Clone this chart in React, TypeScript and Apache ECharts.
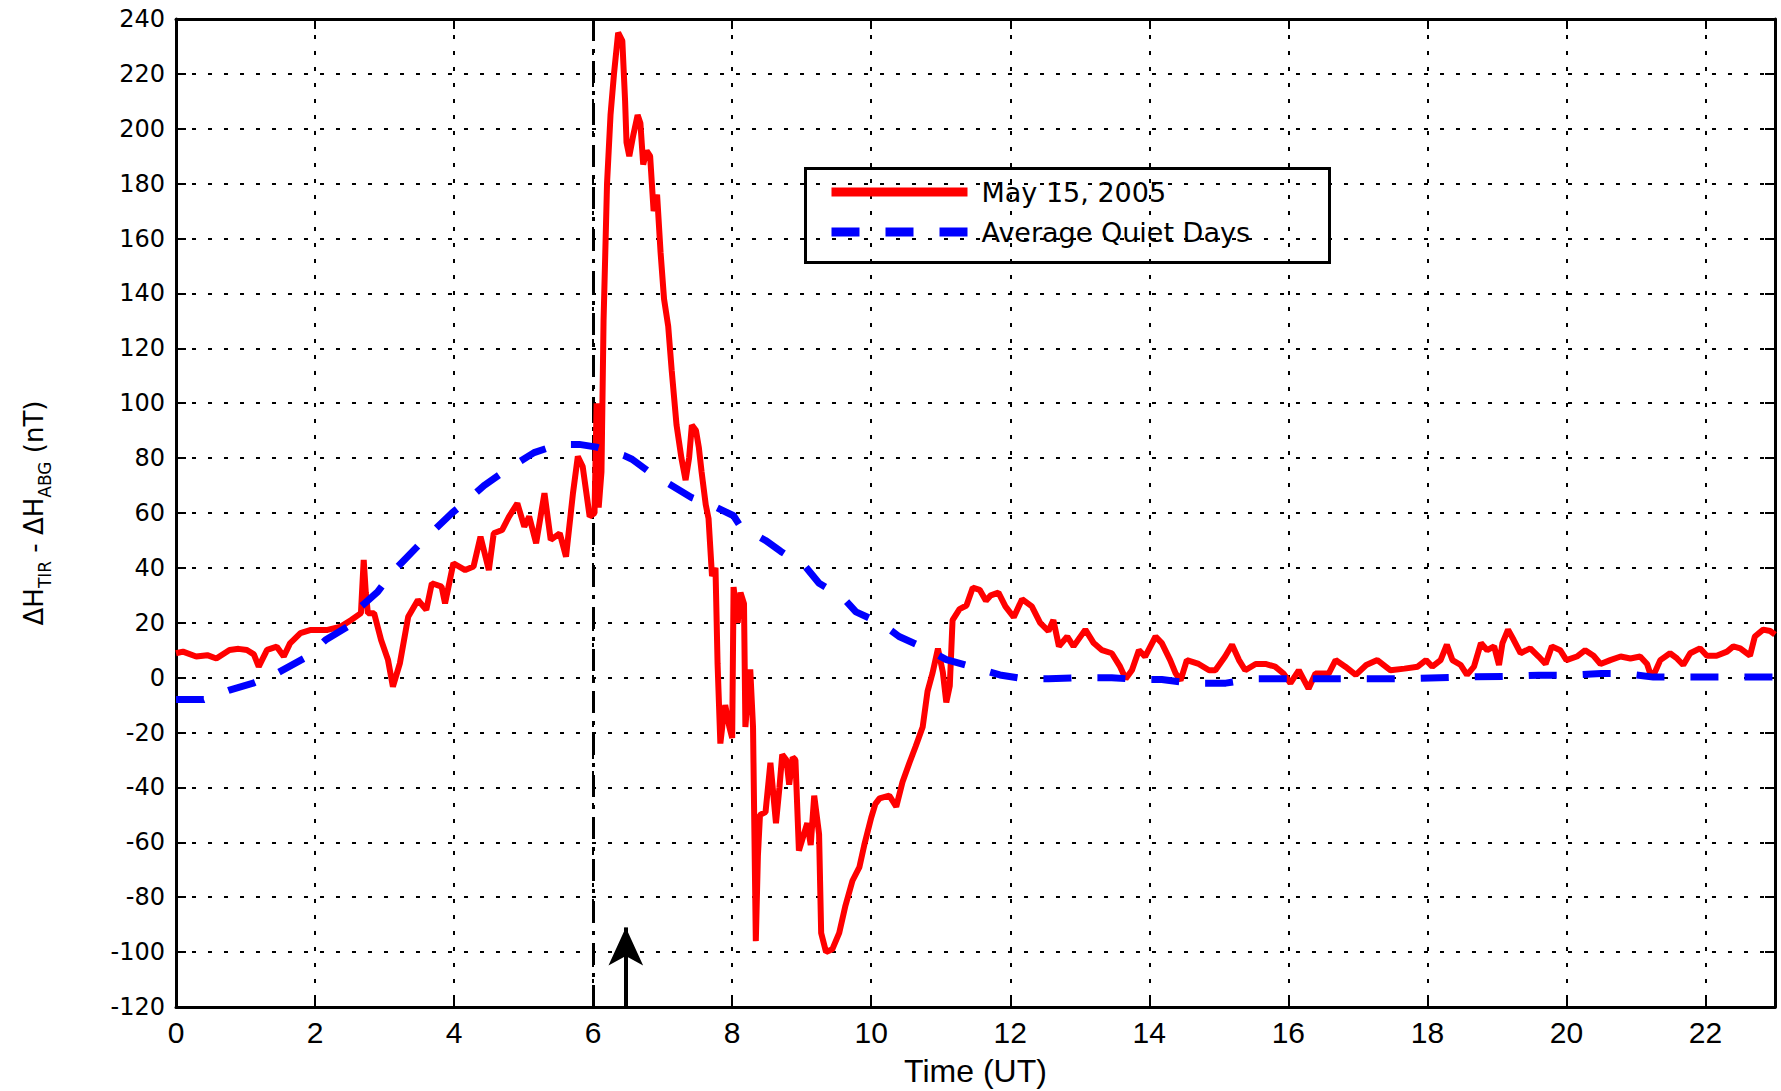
import React, { useEffect, useRef } from 'react';
import * as echarts from 'echarts';

// ---- data ----
const seriesNames = ['May 15, 2005', 'Average Quiet Days'];
const xAxisTitle = 'Time (UT)';

const stormTime = [
  0.0, 0.1, 0.29, 0.45, 0.58, 0.77, 0.9, 1.02, 1.12, 1.19, 1.31, 1.45, 1.55, 1.64, 1.79, 1.94,
  2.18, 2.37, 2.52, 2.66, 2.7, 2.73, 2.76, 2.85, 2.95, 3.05, 3.12, 3.22, 3.34, 3.48, 3.6, 3.68,
  3.82, 3.87, 3.99, 4.16, 4.28, 4.38, 4.5, 4.57, 4.69, 4.79, 4.91, 5.01, 5.08, 5.18, 5.3, 5.39,
  5.52, 5.61, 5.71, 5.78, 5.85, 5.95, 6.02, 6.05, 6.08, 6.12, 6.15, 6.2, 6.25, 6.3, 6.36, 6.42,
  6.46, 6.48, 6.52, 6.58, 6.64, 6.68, 6.72, 6.77, 6.82, 6.87, 6.92, 6.97, 7.02, 7.08, 7.13, 7.2,
  7.27, 7.33, 7.38, 7.42, 7.48, 7.52, 7.56, 7.62, 7.66, 7.71, 7.76, 7.79, 7.83, 7.87, 7.9, 7.96,
  8.0, 8.02, 8.08, 8.12, 8.17, 8.19, 8.23, 8.26, 8.3, 8.34, 8.37, 8.4, 8.48, 8.55, 8.63, 8.68,
  8.72, 8.78, 8.82, 8.87, 8.91, 8.96, 9.02, 9.08, 9.13, 9.18, 9.25, 9.28, 9.35, 9.44, 9.54, 9.63,
  9.73, 9.83, 9.9, 10.0, 10.06, 10.12, 10.26, 10.36, 10.45, 10.55, 10.64, 10.74, 10.81, 10.88, 10.96, 11.03,
  11.08, 11.13, 11.17, 11.27, 11.37, 11.46, 11.56, 11.65, 11.72, 11.83, 11.93, 12.05, 12.17, 12.31, 12.43, 12.55,
  12.62, 12.7, 12.82, 12.91, 13.08, 13.2, 13.32, 13.46, 13.58, 13.66, 13.75, 13.85, 13.94, 14.09, 14.18, 14.3,
  14.38, 14.45, 14.54, 14.71, 14.86, 14.95, 15.09, 15.19, 15.29, 15.38, 15.53, 15.67, 15.81, 15.93, 16.03, 16.15,
  16.29, 16.39, 16.58, 16.68, 16.82, 16.97, 17.12, 17.28, 17.47, 17.67, 17.86, 17.98, 18.07, 18.19, 18.28, 18.36,
  18.48, 18.57, 18.67, 18.77, 18.86, 18.96, 19.03, 19.08, 19.16, 19.24, 19.34, 19.48, 19.6, 19.7, 19.79, 19.91,
  20.0, 20.15, 20.27, 20.39, 20.49, 20.63, 20.78, 20.92, 21.06, 21.16, 21.23, 21.35, 21.49, 21.59, 21.68, 21.78,
  21.92, 22.02, 22.16, 22.31, 22.4, 22.5, 22.64, 22.71, 22.83, 22.93, 23.0,
];
const stormDH = [
  8.9, 9.5, 7.7, 8.2, 7.0, 10.1, 10.5, 10.1, 8.5, 4.0, 10.1, 11.3, 7.7, 12.5, 16.2, 17.4,
  17.4, 18.6, 21, 23.5, 42.9, 31, 23.5, 23.5, 13.7, 6.4, -3.3, 5.2, 22.2, 28.3, 24.7, 34.4,
  33.2, 27.1, 41.7, 39.2, 40.5, 51.4, 39.2, 52.6, 53.8, 58.7, 63.5, 55, 58.7, 49, 67.2, 50.2,
  52.6, 44.1, 67.2, 80.6, 76.9, 58.7, 60, 100, 62, 75, 130, 180, 205, 220, 235, 232,
  210, 195, 190, 198, 205, 202, 187, 192, 190, 170, 176, 155, 138, 128, 112, 92,
  80, 72, 80, 92, 90, 84, 75, 63, 58, 37, 40, 5, -24, -15, -10, -18,
  -22, 33, 20, 31, 27, -18, -5, 3, -18, -96, -65, -50, -49, -31, -53, -40,
  -28, -30, -39, -29, -30, -63, -58, -53, -61, -43, -57, -93, -100, -99, -93, -83,
  -74, -69, -61, -51, -46, -44, -43, -47, -38, -31, -25, -18, -5, 1.5, 10.6, 2,
  -9, -3, 21, 25, 26.3, 32.8, 32, 28, 30, 31, 26, 22, 28.6, 26, 20, 17,
  21, 11.4, 15, 11.4, 17.5, 12.6, 10, 8.9, 4, -0.4, 2.7, 10, 7.7, 15, 12.6, 6.4,
  1.5, -1, 6.4, 5, 2.7, 2.7, 7.7, 12, 6.4, 2.7, 5, 5, 4, 1.5, -2, 2.7,
  -4, 1.5, 1.5, 6.4, 4, 1, 4.6, 6.4, 2.7, 3.3, 4, 6.4, 4, 6.4, 12, 6.4,
  4.6, 1, 4, 12.6, 10, 11.4, 4.6, 12.6, 17.5, 13.8, 8.9, 10.7, 7.7, 5, 11.4, 10,
  6.4, 7.7, 10, 8, 5, 6.4, 7.7, 7, 7.7, 5, -0.4, 6.4, 8.9, 7, 4.6, 8.9,
  10.7, 8, 8, 9.5, 11.4, 10.7, 8, 15, 17.5, 17, 15.7,
];

const quietTime = [
  0, 0.4, 0.77, 1.11, 1.45, 1.89, 2.15, 2.47, 2.66, 2.9, 3.12, 3.48, 3.68, 3.97, 4.16, 4.43,
  4.77, 5.15, 5.5, 5.8, 6.05, 6.44, 6.56, 6.82, 7.1, 7.42, 7.73, 8.02, 8.12, 8.48, 8.7, 9.06,
  9.25, 9.59, 9.78, 10.16, 10.4, 10.79, 11.08, 11.54, 11.85, 12.2, 12.55, 13.0, 13.46, 13.85, 14.18, 14.6,
  15.1, 15.5, 15.9, 16.75, 17.57, 18.45, 19.2, 19.6, 20.05, 20.5, 20.85, 21.25, 22.5, 23,
];
const quietDH = [
  -8, -8, -4.5, -2, 1.6, 7.7, 13.7, 18.6, 25.9, 31.3, 38.6, 48, 53, 60, 64, 70,
  76, 82, 85, 85, 84, 81, 79.6, 74.7, 70.5, 65.6, 62.6, 59, 55.1, 50, 46, 40.3,
  34.4, 29.3, 24, 19.5, 15, 10.5, 6.6, 3.3, 1, -0.4, -0.4, 0, 0, -0.7, -0.7, -2,
  -2, -0.4, -0.4, -0.4, -0.4, 0.2, 0.5, 0.9, 0.9, 1.5, 1.5, 0.2, 0.2, 0.2,
];

const onsetHour = 6; // dash-dot vertical marker
const arrowHour = 6.47;
const arrowTipValue = -91;

const X_MIN = 0;
const X_MAX = 23;
const X_STEP = 2;
const Y_MIN = -120;
const Y_MAX = 240;
const Y_STEP = 20;

function zip(xs: number[], ys: number[]) {
  return xs.map((x, i) => [x, ys[i]]);
}

export default function App() {
  const ref = useRef<HTMLDivElement>(null);

  useEffect(() => {
    if (!ref.current) return;
    const chart = echarts.init(ref.current, null, { renderer: 'svg' });

    const gridLine = { show: true, lineStyle: { color: '#000', width: 2, type: [4, 12] as any } };
    const axisLine = { show: true, onZero: false, lineStyle: { color: '#000', width: 3 } };
    const axisTick = { show: true, inside: true, length: 10, lineStyle: { color: '#000', width: 2 } };

    chart.setOption({
      animation: false,
      backgroundColor: '#fff',
      grid: {
        left: 176,
        top: 19,
        width: 1599,
        height: 988,
        containLabel: false,
        outerBoundsMode: 'none',
      },
      legend: {
        orient: 'vertical',
        left: 827,
        top: 176,
        padding: 0,
        itemGap: 8,
        itemWidth: 136,
        itemHeight: 14,
        selectedMode: false,
        data: seriesNames,
        itemStyle: { opacity: 0, color: 'transparent', borderWidth: 0 },
        lineStyle: { width: 9, opacity: 1 },
        textStyle: {
          fontFamily: 'DejaVu Sans',
          fontSize: 27,
          color: '#000',
          lineHeight: 32,
          padding: [0, 0, 0, 9],
        },
      },
      xAxis: [
        {
          type: 'value',
          min: X_MIN,
          max: X_MAX,
          interval: X_STEP,
          position: 'bottom',
          name: xAxisTitle,
          nameLocation: 'middle',
          nameGap: 48,
          nameTextStyle: { fontFamily: 'Liberation Sans', fontSize: 32, color: '#000' },
          axisLine,
          axisTick,
          splitLine: gridLine,
          axisLabel: {
            margin: 10,
            showMaxLabel: false,
            fontFamily: 'Liberation Sans Narrow, Liberation Sans',
            fontSize: 30,
            color: '#000',
            formatter: (v: number) => (v === X_MAX ? '' : String(v)),
          },
        },
        {
          type: 'value',
          min: X_MIN,
          max: X_MAX,
          interval: X_STEP,
          position: 'top',
          axisLine,
          axisTick,
          splitLine: { show: false },
          axisLabel: { show: false },
        },
      ],
      yAxis: [
        {
          type: 'value',
          min: Y_MIN,
          max: Y_MAX,
          interval: Y_STEP,
          position: 'left',
          name: '{m|ΔH}{s|TIR}{m| - ΔH}{s|ABG}{m| (nT)}',
          nameLocation: 'middle',
          nameGap: 128,
          nameTextStyle: {
            color: '#000',
            rich: {
              m: { fontFamily: 'DejaVu Sans', fontSize: 26, lineHeight: 27, verticalAlign: 'top', color: '#000' },
              s: {
                fontFamily: 'DejaVu Sans',
                fontSize: 17,
                lineHeight: 17,
                verticalAlign: 'top',
                padding: [15, 0, 0, 0],
                color: '#000',
              },
            },
          },
          axisLine,
          axisTick,
          splitLine: gridLine,
          axisLabel: {
            margin: 11,
            fontFamily: 'DejaVu Sans',
            fontSize: 24,
            color: '#000',
          },
        },
        {
          type: 'value',
          min: Y_MIN,
          max: Y_MAX,
          interval: Y_STEP,
          position: 'right',
          axisLine,
          axisTick,
          splitLine: { show: false },
          axisLabel: { show: false },
        },
      ],
      series: [
        {
          name: seriesNames[0],
          type: 'line',
          xAxisIndex: 0,
          yAxisIndex: 0,
          data: zip(stormTime, stormDH),
          symbol: 'none',
          lineStyle: { color: '#ff0000', width: 6 },
          itemStyle: { color: '#ff0000' },
          z: 3,
          markLine: {
            silent: true,
            symbol: 'none',
            label: { show: false },
            lineStyle: { color: '#000', width: 3, type: [22, 8, 4, 8] as any },
            data: [{ xAxis: onsetHour }],
            z: 2,
          },
        },
        {
          name: seriesNames[1],
          type: 'line',
          xAxisIndex: 0,
          yAxisIndex: 0,
          data: zip(quietTime, quietDH),
          symbol: 'none',
          lineStyle: { color: '#0000ff', width: 7, type: [28, 26] as any },
          itemStyle: { color: '#0000ff' },
          z: 4,
          markLine: {
            silent: true,
            symbol: ['none', 'arrow'],
            symbolSize: [26, 38],
            label: { show: false },
            lineStyle: { color: '#000', width: 4, type: 'solid' },
            data: [[{ coord: [arrowHour, Y_MIN] }, { coord: [arrowHour, arrowTipValue] }]],
          },
        },
      ],
      graphic: [
        {
          type: 'rect',
          left: 803,
          top: 166,
          shape: { width: 524, height: 94 },
          style: { fill: 'none', stroke: '#000', lineWidth: 3 },
          z: 100,
        },
      ],
    });

    return () => chart.dispose();
  }, []);

  return (
    <div
      ref={ref}
      style={{ position: 'fixed', left: 0, top: 0, width: 1781, height: 1091, background: '#fff' }}
    />
  );
}
